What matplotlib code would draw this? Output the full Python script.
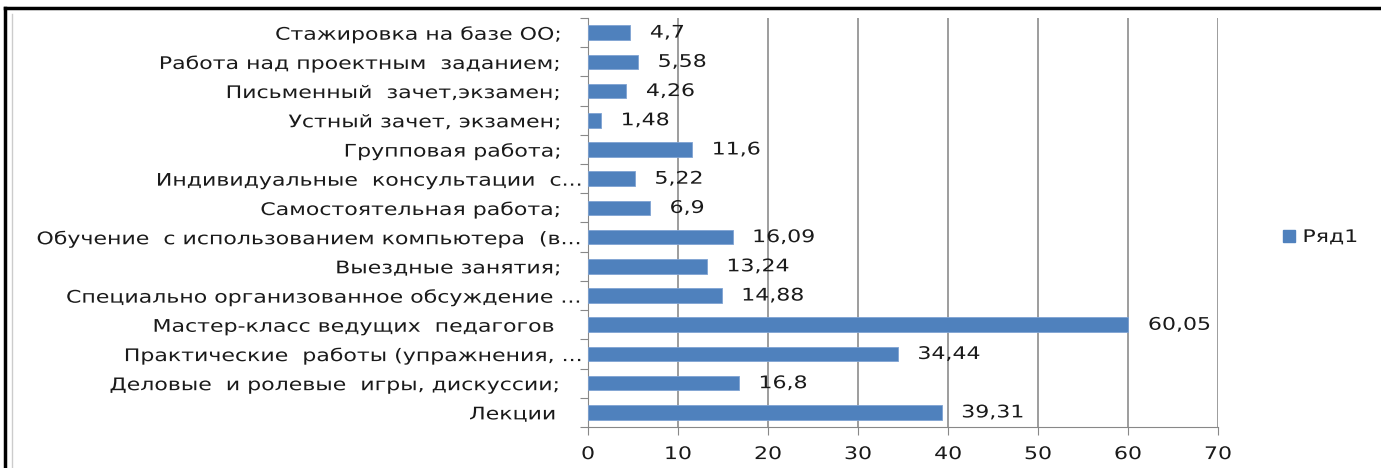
import numpy as np
import matplotlib.pyplot as plt
from matplotlib.lines import Line2D
from matplotlib.patheffects import AbstractPathEffect
from matplotlib.transforms import Affine2D

# Category labels (bottom to top, as drawn by Excel)
categories = [
    "Лекции     ",
    "Деловые  и ролевые  игры, дискуссии;    ",
    "Практические  работы (упражнения, ...",
    "Мастер-класс ведущих  педагогов     ",
    "Специально организованное обсуждение ...",
    "Выездные занятия;    ",
    "Обучение  с использованием компьютера  (в...",
    "Самостоятельная работа;    ",
    "Индивидуальные  консультации  с...",
    "Групповая работа;    ",
    "Устный зачет, экзамен;    ",
    "Письменный  зачет,экзамен;    ",
    "Работа над проектным  заданием;    ",
    "Стажировка на базе ОО;    ",
]
values = [39.31, 16.8, 34.44, 60.05, 14.88, 13.24, 16.09, 6.9, 5.22, 11.6, 1.48, 4.26, 5.58, 4.7]
value_labels = ["39,31", "16,8", "34,44", "60,05", "14,88", "13,24", "16,09",
                "6,9", "5,22", "11,6", "1,48", "4,26", "5,58", "4,7"]
x_ticks = [0, 10, 20, 30, 40, 50, 60, 70]
series_name = "Ряд1"

bar_color = "#4F81BD"
text_color = "#1a1a1a"
fs = 12.5
stretch = 1.27


class Stretch(AbstractPathEffect):
    """Widen glyphs horizontally (the screenshot text is stretched)."""

    def __init__(self, sx, anchor):
        super().__init__()
        self.sx = sx
        self.anchor = anchor

    def draw_path(self, renderer, gc, tpath, affine, rgbFace=None):
        ext = tpath.get_extents()
        x0 = {"left": ext.x0, "right": ext.x1, "center": 0.5 * (ext.x0 + ext.x1)}[self.anchor]
        pre = Affine2D().translate(-x0, 0).scale(self.sx, 1).translate(x0, 0)
        renderer.draw_path(gc, tpath, pre + affine, rgbFace)


fig = plt.figure(figsize=(13.81, 4.68), dpi=100)
ax = fig.add_axes([588 / 1381, 1 - 427 / 468, 630 / 1381, 409 / 468])

y = np.arange(len(categories))
ax.barh(y, values, height=0.5, color=bar_color, edgecolor="#7FA3D3",
        linewidth=0.6, zorder=3, label=series_name)

for yi, v, lab in zip(y, values, value_labels):
    ax.text(v + 2.2, yi, lab, va="center", ha="left", fontsize=fs, color=text_color,
            path_effects=[Stretch(stretch, "left")])

ax.set_xlim(0, 70)
ax.set_ylim(-0.5, len(categories) - 0.5)
ax.set_xticks(x_ticks)
ax.set_xticklabels([str(t) for t in x_ticks], fontsize=fs, color=text_color)
ax.tick_params(axis="x", length=6, color="#888888", pad=7)
for t in ax.get_xticklabels():
    t.set_path_effects([Stretch(stretch, "center")])

# category boundaries carry the tick marks, labels sit at the centres
ax.set_yticks(np.arange(-0.5, len(categories), 1.0))
ax.set_yticklabels([])
ax.set_yticks(y, minor=True)
ax.set_yticklabels(categories, minor=True, fontsize=fs, color=text_color)
ax.tick_params(axis="y", which="major", length=6, color="#888888")
ax.tick_params(axis="y", which="minor", length=0, pad=3)
for t in ax.get_yticklabels(minor=True):
    t.set_path_effects([Stretch(stretch, "right")])

ax.grid(axis="x", color="#8c8c8c", linewidth=1.2, zorder=0)
for side in ["top", "right"]:
    ax.spines[side].set_visible(False)
ax.spines["left"].set_color("#888888")
ax.spines["bottom"].set_color("#888888")

handle = Line2D([], [], marker="s", linestyle="none", markersize=9,
                markerfacecolor=bar_color, markeredgecolor=bar_color)
leg = fig.legend([handle], [series_name], loc="center left",
                 bbox_to_anchor=(1256 / 1381, 1 - 237 / 468), frameon=False,
                 fontsize=fs, handletextpad=-0.2, labelcolor=text_color)
for t in leg.get_texts():
    t.set_path_effects([Stretch(stretch, "left")])

# screenshot frame
fig.add_artist(Line2D([5 / 1381, 1.0], [1 - 8 / 468, 1 - 8 / 468],
                      transform=fig.transFigure, color="black", linewidth=2.5))
fig.add_artist(Line2D([5 / 1381, 5 / 1381], [0, 1 - 8 / 468],
                      transform=fig.transFigure, color="black", linewidth=2.5))
fig.add_artist(Line2D([12 / 1381, 12 / 1381], [0, 1 - 14 / 468],
                      transform=fig.transFigure, color="#cccccc", linewidth=1))

fig.savefig("out.png", dpi=100)
